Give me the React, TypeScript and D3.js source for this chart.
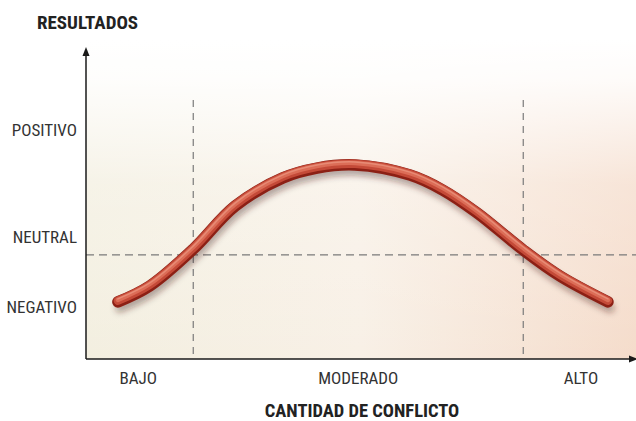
import React, { useEffect, useRef } from "react";
import * as d3 from "d3";

// curve points (x: cantidad de conflicto 0-100, y: resultados 0-100)
const curveX = [5.8, 11.6, 19.5, 27.1, 35.8, 42.0, 48.9, 58.9, 64.9, 71.1, 79.5, 86.2, 94.9];
const curveY = [18.6, 23.8, 35.8, 49.8, 59.0, 62.2, 63.2, 59.9, 55.0, 47.6, 35.5, 27.0, 18.6];

const xLabels = ["BAJO", "MODERADO", "ALTO"];
const xLabelPos = [9.5, 49.5, 90];
const yLabels = ["POSITIVO", "NEUTRAL", "NEGATIVO"];
const yLabelPos = [74.6, 39.7, 16.9];

const vGuides = [19.5, 79.5];
const hGuide = 33.9;

const W = 636;
const H = 421;
const margin = { top: 52, right: 0, bottom: 62, left: 86 };

const App: React.FC = () => {
  const ref = useRef<SVGSVGElement | null>(null);

  useEffect(() => {
    const svg = d3.select(ref.current);
    svg.selectAll("*").remove();

    const x = d3.scaleLinear().domain([0, 100]).range([margin.left, W - margin.right]);
    const y = d3.scaleLinear().domain([0, 100]).range([H - margin.bottom, margin.top]);
    const y0 = y(0);

    const defs = svg.append("defs");
    const bgH = defs.append("linearGradient").attr("id", "bgH").attr("x1", 0).attr("x2", 1).attr("y1", 0).attr("y2", 0);
    bgH.append("stop").attr("offset", "0%").attr("stop-color", "#f3efe0");
    bgH.append("stop").attr("offset", "50%").attr("stop-color", "#f8f0e6");
    bgH.append("stop").attr("offset", "100%").attr("stop-color", "#f5dccb");
    const fade = defs.append("linearGradient").attr("id", "fade").attr("x1", 0).attr("x2", 0).attr("y1", 0).attr("y2", 1);
    fade.append("stop").attr("offset", "0%").attr("stop-color", "#fff").attr("stop-opacity", 1);
    fade.append("stop").attr("offset", "12%").attr("stop-color", "#fff").attr("stop-opacity", 0.9);
    fade.append("stop").attr("offset", "45%").attr("stop-color", "#fff").attr("stop-opacity", 0.25);
    fade.append("stop").attr("offset", "100%").attr("stop-color", "#fff").attr("stop-opacity", 0);
    defs.append("filter").attr("id", "blur").attr("x", "-10%").attr("y", "-30%").attr("width", "120%").attr("height", "160%")
      .append("feGaussianBlur").attr("stdDeviation", 3);

    // background
    svg.append("rect").attr("x", x(0)).attr("y", 40).attr("width", x(100) - x(0)).attr("height", y0 - 40).attr("fill", "url(#bgH)");
    svg.append("rect").attr("x", x(0)).attr("y", 40).attr("width", x(100) - x(0)).attr("height", y0 - 40).attr("fill", "url(#fade)");

    // guides
    svg.selectAll(".vg").data(vGuides).join("line")
      .attr("x1", (d) => x(d)).attr("x2", (d) => x(d))
      .attr("y1", 100).attr("y2", y0)
      .attr("stroke", "#7a7a7a").attr("stroke-width", 1.2).attr("stroke-dasharray", "7 6");
    svg.append("line")
      .attr("x1", x(0)).attr("x2", x(100)).attr("y1", y(hGuide)).attr("y2", y(hGuide))
      .attr("stroke", "#7a7a7a").attr("stroke-width", 1.2).attr("stroke-dasharray", "8 5");

    // axes
    svg.append("line").attr("x1", x(0)).attr("x2", x(0)).attr("y1", y0).attr("y2", 54).attr("stroke", "#1a1a1a").attr("stroke-width", 1.5);
    svg.append("path").attr("d", `M${x(0)},47 L${x(0) - 3.5},56 L${x(0) + 3.5},56 Z`).attr("fill", "#1a1a1a");
    svg.append("line").attr("x1", x(0)).attr("x2", W - 4).attr("y1", y0).attr("y2", y0).attr("stroke", "#1a1a1a").attr("stroke-width", 1.5);
    svg.append("path").attr("d", `M${W + 2},${y0} L${W - 7},${y0 - 3.5} L${W - 7},${y0 + 3.5} Z`).attr("fill", "#1a1a1a");

    // curve
    const pts = curveX.map((cx, i) => [cx, curveY[i]] as [number, number]);
    const line = d3.line<[number, number]>().x((d) => x(d[0])).y((d) => y(d[1])).curve(d3.curveCatmullRom);
    const d = line(pts) ?? "";
    svg.append("path").attr("d", d).attr("fill", "none").attr("stroke", "rgba(60,30,20,0.4)")
      .attr("stroke-width", 9).attr("stroke-linecap", "round").attr("transform", "translate(2,6)").attr("filter", "url(#blur)");
    svg.append("path").attr("d", d).attr("fill", "none").attr("stroke", "#8c2015")
      .attr("stroke-width", 11.5).attr("stroke-linecap", "round");
    svg.append("path").attr("d", d).attr("fill", "none").attr("stroke", "#c44a38")
      .attr("stroke-width", 8.5).attr("stroke-linecap", "round").attr("transform", "translate(0,-1.2)");
    svg.append("path").attr("d", d).attr("fill", "none").attr("stroke", "#dc6d57")
      .attr("stroke-width", 4.5).attr("stroke-linecap", "round").attr("transform", "translate(0,-2)");
    svg.append("path").attr("d", d).attr("fill", "none").attr("stroke", "#eea08a").attr("stroke-opacity", 0.6)
      .attr("stroke-width", 1.5).attr("stroke-linecap", "round").attr("transform", "translate(0,-3)");

    const font = "'Roboto Condensed', 'Liberation Sans Narrow', Roboto, sans-serif";

    // y labels
    svg.selectAll(".yl").data(yLabels).join("text")
      .attr("x", 77).attr("y", (_, i) => y(yLabelPos[i]) + 6)
      .attr("text-anchor", "end").attr("font-family", font).attr("font-size", 17).attr("fill", "#333")
      .text((t) => t);

    // x labels
    svg.selectAll(".xl").data(xLabels).join("text")
      .attr("x", (_, i) => x(xLabelPos[i])).attr("y", 384)
      .attr("text-anchor", "middle").attr("font-family", font).attr("font-size", 17).attr("fill", "#333")
      .text((t) => t);

    // titles
    svg.append("text").attr("x", 37).attr("y", 29).attr("font-family", font).attr("font-weight", "bold")
      .attr("font-size", 19).attr("fill", "#222").text("RESULTADOS");
    svg.append("text").attr("x", 362).attr("y", 417).attr("text-anchor", "middle").attr("font-family", font)
      .attr("font-weight", "bold").attr("font-size", 18.5).attr("fill", "#222").text("CANTIDAD DE CONFLICTO");
  }, []);

  return (
    <svg ref={ref} width={W} height={H} style={{ position: "absolute", left: 0, top: 0, background: "#fff" }} />
  );
};

export default App;
